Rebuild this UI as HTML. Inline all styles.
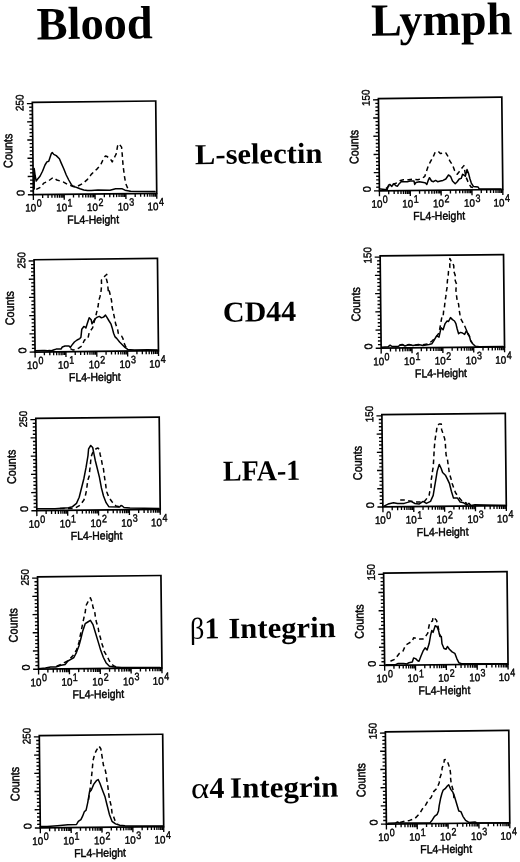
<!DOCTYPE html><html><head><meta charset="utf-8"><style>html,body{margin:0;padding:0;background:#fff;}svg{display:block;filter:grayscale(1);}</style></head><body>
<svg width="520" height="862" viewBox="0 0 520 862">
<rect width="520" height="862" fill="#fff"/>
<g transform="rotate(-0.63)">
<text x="36.4" y="39.8" font-family="Liberation Serif, serif" font-weight="bold" font-size="46.5" textLength="116" lengthAdjust="spacingAndGlyphs" fill="#000">Blood</text>
<text x="370.9" y="39.9" font-family="Liberation Serif, serif" font-weight="bold" font-size="46" textLength="141" lengthAdjust="spacingAndGlyphs" fill="#000">Lymph</text>
<text x="193.3" y="166.3" font-family="Liberation Serif, serif" font-weight="bold" font-size="29" textLength="127.3" lengthAdjust="spacingAndGlyphs" fill="#000">L-selectin</text>
<text x="219.5" y="324.1" font-family="Liberation Serif, serif" font-weight="bold" font-size="29" textLength="73.3" lengthAdjust="spacingAndGlyphs" fill="#000">CD44</text>
<text x="217.7" y="483.2" font-family="Liberation Serif, serif" font-weight="bold" font-size="29" textLength="77.4" lengthAdjust="spacingAndGlyphs" fill="#000">LFA-1</text>
<text x="183" y="640.7" font-family="Liberation Serif, serif" font-size="30" textLength="14.5" lengthAdjust="spacingAndGlyphs">β</text>
<text x="197.5" y="640.7" font-family="Liberation Serif, serif" font-weight="bold" font-size="30">1</text>
<text x="221.4" y="640.7" font-family="Liberation Serif, serif" font-weight="bold" font-size="29.5" textLength="107.4" lengthAdjust="spacingAndGlyphs">Integrin</text>
<text x="182.2" y="800.2" font-family="Liberation Serif, serif" font-size="30" textLength="18.4" lengthAdjust="spacingAndGlyphs">α</text>
<text x="200.6" y="800.2" font-family="Liberation Serif, serif" font-weight="bold" font-size="30">4</text>
<text x="221.3" y="800.2" font-family="Liberation Serif, serif" font-weight="bold" font-size="29.5" textLength="108.5" lengthAdjust="spacingAndGlyphs">Integrin</text>
<g font-family="Liberation Sans, sans-serif" fill="#000" stroke="#000" stroke-width="0.4">
<rect x="31.2" y="102.7" width="123.4" height="92.3" fill="none" stroke="#000" stroke-width="1.7"/>
<path d="M25.75 195H31.2M28.05 191.36H31.2M28.05 187.71H31.2M28.05 184.07H31.2M28.05 180.42H31.2M25.75 176.78H31.2M28.05 173.14H31.2M28.05 169.49H31.2M28.05 165.85H31.2M28.05 162.2H31.2M25.75 158.56H31.2M28.05 154.92H31.2M28.05 151.27H31.2M28.05 147.63H31.2M28.05 143.98H31.2M25.75 140.34H31.2M28.05 136.7H31.2M28.05 133.05H31.2M28.05 129.41H31.2M28.05 125.76H31.2M25.75 122.12H31.2M28.05 118.48H31.2M28.05 114.83H31.2M28.05 111.19H31.2M28.05 107.54H31.2M25.75 103.9H31.2M31.2 195V200.4M40.49 195V198.4M45.92 195V198.4M49.77 195V198.4M52.76 195V198.4M55.21 195V198.4M57.27 195V198.4M59.06 195V198.4M60.64 195V198.4M62.05 195V200.4M71.34 195V198.4M76.77 195V198.4M80.62 195V198.4M83.61 195V198.4M86.06 195V198.4M88.12 195V198.4M89.91 195V198.4M91.49 195V198.4M92.9 195V200.4M102.19 195V198.4M107.62 195V198.4M111.47 195V198.4M114.46 195V198.4M116.91 195V198.4M118.97 195V198.4M120.76 195V198.4M122.34 195V198.4M123.75 195V200.4M133.04 195V198.4M138.47 195V198.4M142.32 195V198.4M145.31 195V198.4M147.76 195V198.4M149.82 195V198.4M151.61 195V198.4M153.19 195V198.4M154.6 195V200.4" stroke="#000" stroke-width="1.35" fill="none"/>
<text transform="translate(22.4 103.1) rotate(-90)" text-anchor="middle" font-size="11" textLength="16.5" lengthAdjust="spacingAndGlyphs">250</text>
<text transform="translate(22.4 193.2) rotate(-90)" text-anchor="middle" font-size="11">0</text>
<text transform="translate(10.6 150.9) rotate(-90)" text-anchor="middle" font-size="12.6" stroke-width="0.45" textLength="34.3" lengthAdjust="spacingAndGlyphs">Counts</text>
<text x="23" y="211.9" font-size="10.8" textLength="11" lengthAdjust="spacingAndGlyphs">10</text>
<text x="34.5" y="207.2" font-size="10.8" textLength="5" lengthAdjust="spacingAndGlyphs">0</text>
<text x="53.85" y="211.9" font-size="10.8" textLength="11" lengthAdjust="spacingAndGlyphs">10</text>
<text x="65.35" y="207.2" font-size="10.8" textLength="5" lengthAdjust="spacingAndGlyphs">1</text>
<text x="84.7" y="211.9" font-size="10.8" textLength="11" lengthAdjust="spacingAndGlyphs">10</text>
<text x="96.2" y="207.2" font-size="10.8" textLength="5" lengthAdjust="spacingAndGlyphs">2</text>
<text x="115.55" y="211.9" font-size="10.8" textLength="11" lengthAdjust="spacingAndGlyphs">10</text>
<text x="127.05" y="207.2" font-size="10.8" textLength="5" lengthAdjust="spacingAndGlyphs">3</text>
<text x="145.2" y="211.9" font-size="10.8" textLength="11" lengthAdjust="spacingAndGlyphs">10</text>
<text x="156.7" y="207.2" font-size="10.8" textLength="5" lengthAdjust="spacingAndGlyphs">4</text>
<text x="90.7" y="224.6" text-anchor="middle" font-size="11.6" stroke-width="0.45" textLength="51.8" lengthAdjust="spacingAndGlyphs">FL4-Height</text>
<rect x="31.2" y="260.1" width="123.4" height="92.3" fill="none" stroke="#000" stroke-width="1.7"/>
<path d="M25.75 352.4H31.2M28.05 348.76H31.2M28.05 345.11H31.2M28.05 341.47H31.2M28.05 337.82H31.2M25.75 334.18H31.2M28.05 330.54H31.2M28.05 326.89H31.2M28.05 323.25H31.2M28.05 319.6H31.2M25.75 315.96H31.2M28.05 312.32H31.2M28.05 308.67H31.2M28.05 305.03H31.2M28.05 301.38H31.2M25.75 297.74H31.2M28.05 294.1H31.2M28.05 290.45H31.2M28.05 286.81H31.2M28.05 283.16H31.2M25.75 279.52H31.2M28.05 275.88H31.2M28.05 272.23H31.2M28.05 268.59H31.2M28.05 264.94H31.2M25.75 261.3H31.2M31.2 352.4V357.8M40.49 352.4V355.8M45.92 352.4V355.8M49.77 352.4V355.8M52.76 352.4V355.8M55.21 352.4V355.8M57.27 352.4V355.8M59.06 352.4V355.8M60.64 352.4V355.8M62.05 352.4V357.8M71.34 352.4V355.8M76.77 352.4V355.8M80.62 352.4V355.8M83.61 352.4V355.8M86.06 352.4V355.8M88.12 352.4V355.8M89.91 352.4V355.8M91.49 352.4V355.8M92.9 352.4V357.8M102.19 352.4V355.8M107.62 352.4V355.8M111.47 352.4V355.8M114.46 352.4V355.8M116.91 352.4V355.8M118.97 352.4V355.8M120.76 352.4V355.8M122.34 352.4V355.8M123.75 352.4V357.8M133.04 352.4V355.8M138.47 352.4V355.8M142.32 352.4V355.8M145.31 352.4V355.8M147.76 352.4V355.8M149.82 352.4V355.8M151.61 352.4V355.8M153.19 352.4V355.8M154.6 352.4V357.8" stroke="#000" stroke-width="1.35" fill="none"/>
<text transform="translate(22.4 260.5) rotate(-90)" text-anchor="middle" font-size="11" textLength="16.5" lengthAdjust="spacingAndGlyphs">250</text>
<text transform="translate(22.4 350.6) rotate(-90)" text-anchor="middle" font-size="11">0</text>
<text transform="translate(10.6 308.3) rotate(-90)" text-anchor="middle" font-size="12.6" stroke-width="0.45" textLength="34.3" lengthAdjust="spacingAndGlyphs">Counts</text>
<text x="23" y="369.3" font-size="10.8" textLength="11" lengthAdjust="spacingAndGlyphs">10</text>
<text x="34.5" y="364.6" font-size="10.8" textLength="5" lengthAdjust="spacingAndGlyphs">0</text>
<text x="53.85" y="369.3" font-size="10.8" textLength="11" lengthAdjust="spacingAndGlyphs">10</text>
<text x="65.35" y="364.6" font-size="10.8" textLength="5" lengthAdjust="spacingAndGlyphs">1</text>
<text x="84.7" y="369.3" font-size="10.8" textLength="11" lengthAdjust="spacingAndGlyphs">10</text>
<text x="96.2" y="364.6" font-size="10.8" textLength="5" lengthAdjust="spacingAndGlyphs">2</text>
<text x="115.55" y="369.3" font-size="10.8" textLength="11" lengthAdjust="spacingAndGlyphs">10</text>
<text x="127.05" y="364.6" font-size="10.8" textLength="5" lengthAdjust="spacingAndGlyphs">3</text>
<text x="145.2" y="369.3" font-size="10.8" textLength="11" lengthAdjust="spacingAndGlyphs">10</text>
<text x="156.7" y="364.6" font-size="10.8" textLength="5" lengthAdjust="spacingAndGlyphs">4</text>
<text x="90.7" y="382" text-anchor="middle" font-size="11.6" stroke-width="0.45" textLength="51.8" lengthAdjust="spacingAndGlyphs">FL4-Height</text>
<rect x="31.2" y="418.8" width="123.4" height="92.3" fill="none" stroke="#000" stroke-width="1.7"/>
<path d="M25.75 511.1H31.2M28.05 507.46H31.2M28.05 503.81H31.2M28.05 500.17H31.2M28.05 496.52H31.2M25.75 492.88H31.2M28.05 489.24H31.2M28.05 485.59H31.2M28.05 481.95H31.2M28.05 478.3H31.2M25.75 474.66H31.2M28.05 471.02H31.2M28.05 467.37H31.2M28.05 463.73H31.2M28.05 460.08H31.2M25.75 456.44H31.2M28.05 452.8H31.2M28.05 449.15H31.2M28.05 445.51H31.2M28.05 441.86H31.2M25.75 438.22H31.2M28.05 434.58H31.2M28.05 430.93H31.2M28.05 427.29H31.2M28.05 423.64H31.2M25.75 420H31.2M31.2 511.1V516.5M40.49 511.1V514.5M45.92 511.1V514.5M49.77 511.1V514.5M52.76 511.1V514.5M55.21 511.1V514.5M57.27 511.1V514.5M59.06 511.1V514.5M60.64 511.1V514.5M62.05 511.1V516.5M71.34 511.1V514.5M76.77 511.1V514.5M80.62 511.1V514.5M83.61 511.1V514.5M86.06 511.1V514.5M88.12 511.1V514.5M89.91 511.1V514.5M91.49 511.1V514.5M92.9 511.1V516.5M102.19 511.1V514.5M107.62 511.1V514.5M111.47 511.1V514.5M114.46 511.1V514.5M116.91 511.1V514.5M118.97 511.1V514.5M120.76 511.1V514.5M122.34 511.1V514.5M123.75 511.1V516.5M133.04 511.1V514.5M138.47 511.1V514.5M142.32 511.1V514.5M145.31 511.1V514.5M147.76 511.1V514.5M149.82 511.1V514.5M151.61 511.1V514.5M153.19 511.1V514.5M154.6 511.1V516.5" stroke="#000" stroke-width="1.35" fill="none"/>
<text transform="translate(22.4 419.2) rotate(-90)" text-anchor="middle" font-size="11" textLength="16.5" lengthAdjust="spacingAndGlyphs">250</text>
<text transform="translate(22.4 509.3) rotate(-90)" text-anchor="middle" font-size="11">0</text>
<text transform="translate(10.6 467) rotate(-90)" text-anchor="middle" font-size="12.6" stroke-width="0.45" textLength="34.3" lengthAdjust="spacingAndGlyphs">Counts</text>
<text x="23" y="528" font-size="10.8" textLength="11" lengthAdjust="spacingAndGlyphs">10</text>
<text x="34.5" y="523.3" font-size="10.8" textLength="5" lengthAdjust="spacingAndGlyphs">0</text>
<text x="53.85" y="528" font-size="10.8" textLength="11" lengthAdjust="spacingAndGlyphs">10</text>
<text x="65.35" y="523.3" font-size="10.8" textLength="5" lengthAdjust="spacingAndGlyphs">1</text>
<text x="84.7" y="528" font-size="10.8" textLength="11" lengthAdjust="spacingAndGlyphs">10</text>
<text x="96.2" y="523.3" font-size="10.8" textLength="5" lengthAdjust="spacingAndGlyphs">2</text>
<text x="115.55" y="528" font-size="10.8" textLength="11" lengthAdjust="spacingAndGlyphs">10</text>
<text x="127.05" y="523.3" font-size="10.8" textLength="5" lengthAdjust="spacingAndGlyphs">3</text>
<text x="145.2" y="528" font-size="10.8" textLength="11" lengthAdjust="spacingAndGlyphs">10</text>
<text x="156.7" y="523.3" font-size="10.8" textLength="5" lengthAdjust="spacingAndGlyphs">4</text>
<text x="90.7" y="540.7" text-anchor="middle" font-size="11.6" stroke-width="0.45" textLength="51.8" lengthAdjust="spacingAndGlyphs">FL4-Height</text>
<rect x="31.2" y="577.25" width="123.4" height="92.3" fill="none" stroke="#000" stroke-width="1.7"/>
<path d="M25.75 669.55H31.2M28.05 665.91H31.2M28.05 662.26H31.2M28.05 658.62H31.2M28.05 654.97H31.2M25.75 651.33H31.2M28.05 647.69H31.2M28.05 644.04H31.2M28.05 640.4H31.2M28.05 636.75H31.2M25.75 633.11H31.2M28.05 629.47H31.2M28.05 625.82H31.2M28.05 622.18H31.2M28.05 618.53H31.2M25.75 614.89H31.2M28.05 611.25H31.2M28.05 607.6H31.2M28.05 603.96H31.2M28.05 600.31H31.2M25.75 596.67H31.2M28.05 593.03H31.2M28.05 589.38H31.2M28.05 585.74H31.2M28.05 582.09H31.2M25.75 578.45H31.2M31.2 669.55V674.95M40.49 669.55V672.95M45.92 669.55V672.95M49.77 669.55V672.95M52.76 669.55V672.95M55.21 669.55V672.95M57.27 669.55V672.95M59.06 669.55V672.95M60.64 669.55V672.95M62.05 669.55V674.95M71.34 669.55V672.95M76.77 669.55V672.95M80.62 669.55V672.95M83.61 669.55V672.95M86.06 669.55V672.95M88.12 669.55V672.95M89.91 669.55V672.95M91.49 669.55V672.95M92.9 669.55V674.95M102.19 669.55V672.95M107.62 669.55V672.95M111.47 669.55V672.95M114.46 669.55V672.95M116.91 669.55V672.95M118.97 669.55V672.95M120.76 669.55V672.95M122.34 669.55V672.95M123.75 669.55V674.95M133.04 669.55V672.95M138.47 669.55V672.95M142.32 669.55V672.95M145.31 669.55V672.95M147.76 669.55V672.95M149.82 669.55V672.95M151.61 669.55V672.95M153.19 669.55V672.95M154.6 669.55V674.95" stroke="#000" stroke-width="1.35" fill="none"/>
<text transform="translate(22.4 577.65) rotate(-90)" text-anchor="middle" font-size="11" textLength="16.5" lengthAdjust="spacingAndGlyphs">250</text>
<text transform="translate(22.4 667.75) rotate(-90)" text-anchor="middle" font-size="11">0</text>
<text transform="translate(10.6 625.45) rotate(-90)" text-anchor="middle" font-size="12.6" stroke-width="0.45" textLength="34.3" lengthAdjust="spacingAndGlyphs">Counts</text>
<text x="23" y="686.45" font-size="10.8" textLength="11" lengthAdjust="spacingAndGlyphs">10</text>
<text x="34.5" y="681.75" font-size="10.8" textLength="5" lengthAdjust="spacingAndGlyphs">0</text>
<text x="53.85" y="686.45" font-size="10.8" textLength="11" lengthAdjust="spacingAndGlyphs">10</text>
<text x="65.35" y="681.75" font-size="10.8" textLength="5" lengthAdjust="spacingAndGlyphs">1</text>
<text x="84.7" y="686.45" font-size="10.8" textLength="11" lengthAdjust="spacingAndGlyphs">10</text>
<text x="96.2" y="681.75" font-size="10.8" textLength="5" lengthAdjust="spacingAndGlyphs">2</text>
<text x="115.55" y="686.45" font-size="10.8" textLength="11" lengthAdjust="spacingAndGlyphs">10</text>
<text x="127.05" y="681.75" font-size="10.8" textLength="5" lengthAdjust="spacingAndGlyphs">3</text>
<text x="145.2" y="686.45" font-size="10.8" textLength="11" lengthAdjust="spacingAndGlyphs">10</text>
<text x="156.7" y="681.75" font-size="10.8" textLength="5" lengthAdjust="spacingAndGlyphs">4</text>
<text x="90.7" y="699.15" text-anchor="middle" font-size="11.6" stroke-width="0.45" textLength="51.8" lengthAdjust="spacingAndGlyphs">FL4-Height</text>
<rect x="31.2" y="736" width="123.4" height="92.3" fill="none" stroke="#000" stroke-width="1.7"/>
<path d="M25.75 828.3H31.2M28.05 824.66H31.2M28.05 821.01H31.2M28.05 817.37H31.2M28.05 813.72H31.2M25.75 810.08H31.2M28.05 806.44H31.2M28.05 802.79H31.2M28.05 799.15H31.2M28.05 795.5H31.2M25.75 791.86H31.2M28.05 788.22H31.2M28.05 784.57H31.2M28.05 780.93H31.2M28.05 777.28H31.2M25.75 773.64H31.2M28.05 770H31.2M28.05 766.35H31.2M28.05 762.71H31.2M28.05 759.06H31.2M25.75 755.42H31.2M28.05 751.78H31.2M28.05 748.13H31.2M28.05 744.49H31.2M28.05 740.84H31.2M25.75 737.2H31.2M31.2 828.3V833.7M40.49 828.3V831.7M45.92 828.3V831.7M49.77 828.3V831.7M52.76 828.3V831.7M55.21 828.3V831.7M57.27 828.3V831.7M59.06 828.3V831.7M60.64 828.3V831.7M62.05 828.3V833.7M71.34 828.3V831.7M76.77 828.3V831.7M80.62 828.3V831.7M83.61 828.3V831.7M86.06 828.3V831.7M88.12 828.3V831.7M89.91 828.3V831.7M91.49 828.3V831.7M92.9 828.3V833.7M102.19 828.3V831.7M107.62 828.3V831.7M111.47 828.3V831.7M114.46 828.3V831.7M116.91 828.3V831.7M118.97 828.3V831.7M120.76 828.3V831.7M122.34 828.3V831.7M123.75 828.3V833.7M133.04 828.3V831.7M138.47 828.3V831.7M142.32 828.3V831.7M145.31 828.3V831.7M147.76 828.3V831.7M149.82 828.3V831.7M151.61 828.3V831.7M153.19 828.3V831.7M154.6 828.3V833.7" stroke="#000" stroke-width="1.35" fill="none"/>
<text transform="translate(22.4 736.4) rotate(-90)" text-anchor="middle" font-size="11" textLength="16.5" lengthAdjust="spacingAndGlyphs">250</text>
<text transform="translate(22.4 826.5) rotate(-90)" text-anchor="middle" font-size="11">0</text>
<text transform="translate(10.6 784.2) rotate(-90)" text-anchor="middle" font-size="12.6" stroke-width="0.45" textLength="34.3" lengthAdjust="spacingAndGlyphs">Counts</text>
<text x="23" y="845.2" font-size="10.8" textLength="11" lengthAdjust="spacingAndGlyphs">10</text>
<text x="34.5" y="840.5" font-size="10.8" textLength="5" lengthAdjust="spacingAndGlyphs">0</text>
<text x="53.85" y="845.2" font-size="10.8" textLength="11" lengthAdjust="spacingAndGlyphs">10</text>
<text x="65.35" y="840.5" font-size="10.8" textLength="5" lengthAdjust="spacingAndGlyphs">1</text>
<text x="84.7" y="845.2" font-size="10.8" textLength="11" lengthAdjust="spacingAndGlyphs">10</text>
<text x="96.2" y="840.5" font-size="10.8" textLength="5" lengthAdjust="spacingAndGlyphs">2</text>
<text x="115.55" y="845.2" font-size="10.8" textLength="11" lengthAdjust="spacingAndGlyphs">10</text>
<text x="127.05" y="840.5" font-size="10.8" textLength="5" lengthAdjust="spacingAndGlyphs">3</text>
<text x="145.2" y="845.2" font-size="10.8" textLength="11" lengthAdjust="spacingAndGlyphs">10</text>
<text x="156.7" y="840.5" font-size="10.8" textLength="5" lengthAdjust="spacingAndGlyphs">4</text>
<text x="90.7" y="857.9" text-anchor="middle" font-size="11.6" stroke-width="0.45" textLength="51.8" lengthAdjust="spacingAndGlyphs">FL4-Height</text>
<rect x="377.3" y="102.7" width="123.4" height="92.3" fill="none" stroke="#000" stroke-width="1.7"/>
<path d="M371.85 195H377.3M374.15 191.36H377.3M374.15 187.71H377.3M374.15 184.07H377.3M374.15 180.42H377.3M371.85 176.78H377.3M374.15 173.14H377.3M374.15 169.49H377.3M374.15 165.85H377.3M374.15 162.2H377.3M371.85 158.56H377.3M374.15 154.92H377.3M374.15 151.27H377.3M374.15 147.63H377.3M374.15 143.98H377.3M371.85 140.34H377.3M374.15 136.7H377.3M374.15 133.05H377.3M374.15 129.41H377.3M374.15 125.76H377.3M371.85 122.12H377.3M374.15 118.48H377.3M374.15 114.83H377.3M374.15 111.19H377.3M374.15 107.54H377.3M371.85 103.9H377.3M377.3 195V200.4M386.59 195V198.4M392.02 195V198.4M395.87 195V198.4M398.86 195V198.4M401.31 195V198.4M403.37 195V198.4M405.16 195V198.4M406.74 195V198.4M408.15 195V200.4M417.44 195V198.4M422.87 195V198.4M426.72 195V198.4M429.71 195V198.4M432.16 195V198.4M434.22 195V198.4M436.01 195V198.4M437.59 195V198.4M439 195V200.4M448.29 195V198.4M453.72 195V198.4M457.57 195V198.4M460.56 195V198.4M463.01 195V198.4M465.07 195V198.4M466.86 195V198.4M468.44 195V198.4M469.85 195V200.4M479.14 195V198.4M484.57 195V198.4M488.42 195V198.4M491.41 195V198.4M493.86 195V198.4M495.92 195V198.4M497.71 195V198.4M499.29 195V198.4M500.7 195V200.4" stroke="#000" stroke-width="1.35" fill="none"/>
<text transform="translate(368.5 101.9) rotate(-90)" text-anchor="middle" font-size="11" textLength="16.5" lengthAdjust="spacingAndGlyphs">150</text>
<text transform="translate(368.5 193.2) rotate(-90)" text-anchor="middle" font-size="11">0</text>
<text transform="translate(356.7 150.9) rotate(-90)" text-anchor="middle" font-size="12.6" stroke-width="0.45" textLength="34.3" lengthAdjust="spacingAndGlyphs">Counts</text>
<text x="369.1" y="211.9" font-size="10.8" textLength="11" lengthAdjust="spacingAndGlyphs">10</text>
<text x="380.6" y="207.2" font-size="10.8" textLength="5" lengthAdjust="spacingAndGlyphs">0</text>
<text x="399.95" y="211.9" font-size="10.8" textLength="11" lengthAdjust="spacingAndGlyphs">10</text>
<text x="411.45" y="207.2" font-size="10.8" textLength="5" lengthAdjust="spacingAndGlyphs">1</text>
<text x="430.8" y="211.9" font-size="10.8" textLength="11" lengthAdjust="spacingAndGlyphs">10</text>
<text x="442.3" y="207.2" font-size="10.8" textLength="5" lengthAdjust="spacingAndGlyphs">2</text>
<text x="461.65" y="211.9" font-size="10.8" textLength="11" lengthAdjust="spacingAndGlyphs">10</text>
<text x="473.15" y="207.2" font-size="10.8" textLength="5" lengthAdjust="spacingAndGlyphs">3</text>
<text x="491.3" y="211.9" font-size="10.8" textLength="11" lengthAdjust="spacingAndGlyphs">10</text>
<text x="502.8" y="207.2" font-size="10.8" textLength="5" lengthAdjust="spacingAndGlyphs">4</text>
<text x="436.8" y="224.6" text-anchor="middle" font-size="11.6" stroke-width="0.45" textLength="51.8" lengthAdjust="spacingAndGlyphs">FL4-Height</text>
<rect x="377.3" y="260.1" width="123.4" height="92.3" fill="none" stroke="#000" stroke-width="1.7"/>
<path d="M371.85 352.4H377.3M374.15 348.76H377.3M374.15 345.11H377.3M374.15 341.47H377.3M374.15 337.82H377.3M371.85 334.18H377.3M374.15 330.54H377.3M374.15 326.89H377.3M374.15 323.25H377.3M374.15 319.6H377.3M371.85 315.96H377.3M374.15 312.32H377.3M374.15 308.67H377.3M374.15 305.03H377.3M374.15 301.38H377.3M371.85 297.74H377.3M374.15 294.1H377.3M374.15 290.45H377.3M374.15 286.81H377.3M374.15 283.16H377.3M371.85 279.52H377.3M374.15 275.88H377.3M374.15 272.23H377.3M374.15 268.59H377.3M374.15 264.94H377.3M371.85 261.3H377.3M377.3 352.4V357.8M386.59 352.4V355.8M392.02 352.4V355.8M395.87 352.4V355.8M398.86 352.4V355.8M401.31 352.4V355.8M403.37 352.4V355.8M405.16 352.4V355.8M406.74 352.4V355.8M408.15 352.4V357.8M417.44 352.4V355.8M422.87 352.4V355.8M426.72 352.4V355.8M429.71 352.4V355.8M432.16 352.4V355.8M434.22 352.4V355.8M436.01 352.4V355.8M437.59 352.4V355.8M439 352.4V357.8M448.29 352.4V355.8M453.72 352.4V355.8M457.57 352.4V355.8M460.56 352.4V355.8M463.01 352.4V355.8M465.07 352.4V355.8M466.86 352.4V355.8M468.44 352.4V355.8M469.85 352.4V357.8M479.14 352.4V355.8M484.57 352.4V355.8M488.42 352.4V355.8M491.41 352.4V355.8M493.86 352.4V355.8M495.92 352.4V355.8M497.71 352.4V355.8M499.29 352.4V355.8M500.7 352.4V357.8" stroke="#000" stroke-width="1.35" fill="none"/>
<text transform="translate(368.5 259.3) rotate(-90)" text-anchor="middle" font-size="11" textLength="16.5" lengthAdjust="spacingAndGlyphs">150</text>
<text transform="translate(368.5 350.6) rotate(-90)" text-anchor="middle" font-size="11">0</text>
<text transform="translate(356.7 308.3) rotate(-90)" text-anchor="middle" font-size="12.6" stroke-width="0.45" textLength="34.3" lengthAdjust="spacingAndGlyphs">Counts</text>
<text x="369.1" y="369.3" font-size="10.8" textLength="11" lengthAdjust="spacingAndGlyphs">10</text>
<text x="380.6" y="364.6" font-size="10.8" textLength="5" lengthAdjust="spacingAndGlyphs">0</text>
<text x="399.95" y="369.3" font-size="10.8" textLength="11" lengthAdjust="spacingAndGlyphs">10</text>
<text x="411.45" y="364.6" font-size="10.8" textLength="5" lengthAdjust="spacingAndGlyphs">1</text>
<text x="430.8" y="369.3" font-size="10.8" textLength="11" lengthAdjust="spacingAndGlyphs">10</text>
<text x="442.3" y="364.6" font-size="10.8" textLength="5" lengthAdjust="spacingAndGlyphs">2</text>
<text x="461.65" y="369.3" font-size="10.8" textLength="11" lengthAdjust="spacingAndGlyphs">10</text>
<text x="473.15" y="364.6" font-size="10.8" textLength="5" lengthAdjust="spacingAndGlyphs">3</text>
<text x="491.3" y="369.3" font-size="10.8" textLength="11" lengthAdjust="spacingAndGlyphs">10</text>
<text x="502.8" y="364.6" font-size="10.8" textLength="5" lengthAdjust="spacingAndGlyphs">4</text>
<text x="436.8" y="382" text-anchor="middle" font-size="11.6" stroke-width="0.45" textLength="51.8" lengthAdjust="spacingAndGlyphs">FL4-Height</text>
<rect x="377.3" y="418.8" width="123.4" height="92.3" fill="none" stroke="#000" stroke-width="1.7"/>
<path d="M371.85 511.1H377.3M374.15 507.46H377.3M374.15 503.81H377.3M374.15 500.17H377.3M374.15 496.52H377.3M371.85 492.88H377.3M374.15 489.24H377.3M374.15 485.59H377.3M374.15 481.95H377.3M374.15 478.3H377.3M371.85 474.66H377.3M374.15 471.02H377.3M374.15 467.37H377.3M374.15 463.73H377.3M374.15 460.08H377.3M371.85 456.44H377.3M374.15 452.8H377.3M374.15 449.15H377.3M374.15 445.51H377.3M374.15 441.86H377.3M371.85 438.22H377.3M374.15 434.58H377.3M374.15 430.93H377.3M374.15 427.29H377.3M374.15 423.64H377.3M371.85 420H377.3M377.3 511.1V516.5M386.59 511.1V514.5M392.02 511.1V514.5M395.87 511.1V514.5M398.86 511.1V514.5M401.31 511.1V514.5M403.37 511.1V514.5M405.16 511.1V514.5M406.74 511.1V514.5M408.15 511.1V516.5M417.44 511.1V514.5M422.87 511.1V514.5M426.72 511.1V514.5M429.71 511.1V514.5M432.16 511.1V514.5M434.22 511.1V514.5M436.01 511.1V514.5M437.59 511.1V514.5M439 511.1V516.5M448.29 511.1V514.5M453.72 511.1V514.5M457.57 511.1V514.5M460.56 511.1V514.5M463.01 511.1V514.5M465.07 511.1V514.5M466.86 511.1V514.5M468.44 511.1V514.5M469.85 511.1V516.5M479.14 511.1V514.5M484.57 511.1V514.5M488.42 511.1V514.5M491.41 511.1V514.5M493.86 511.1V514.5M495.92 511.1V514.5M497.71 511.1V514.5M499.29 511.1V514.5M500.7 511.1V516.5" stroke="#000" stroke-width="1.35" fill="none"/>
<text transform="translate(368.5 418) rotate(-90)" text-anchor="middle" font-size="11" textLength="16.5" lengthAdjust="spacingAndGlyphs">150</text>
<text transform="translate(368.5 509.3) rotate(-90)" text-anchor="middle" font-size="11">0</text>
<text transform="translate(356.7 467) rotate(-90)" text-anchor="middle" font-size="12.6" stroke-width="0.45" textLength="34.3" lengthAdjust="spacingAndGlyphs">Counts</text>
<text x="369.1" y="528" font-size="10.8" textLength="11" lengthAdjust="spacingAndGlyphs">10</text>
<text x="380.6" y="523.3" font-size="10.8" textLength="5" lengthAdjust="spacingAndGlyphs">0</text>
<text x="399.95" y="528" font-size="10.8" textLength="11" lengthAdjust="spacingAndGlyphs">10</text>
<text x="411.45" y="523.3" font-size="10.8" textLength="5" lengthAdjust="spacingAndGlyphs">1</text>
<text x="430.8" y="528" font-size="10.8" textLength="11" lengthAdjust="spacingAndGlyphs">10</text>
<text x="442.3" y="523.3" font-size="10.8" textLength="5" lengthAdjust="spacingAndGlyphs">2</text>
<text x="461.65" y="528" font-size="10.8" textLength="11" lengthAdjust="spacingAndGlyphs">10</text>
<text x="473.15" y="523.3" font-size="10.8" textLength="5" lengthAdjust="spacingAndGlyphs">3</text>
<text x="491.3" y="528" font-size="10.8" textLength="11" lengthAdjust="spacingAndGlyphs">10</text>
<text x="502.8" y="523.3" font-size="10.8" textLength="5" lengthAdjust="spacingAndGlyphs">4</text>
<text x="436.8" y="540.7" text-anchor="middle" font-size="11.6" stroke-width="0.45" textLength="51.8" lengthAdjust="spacingAndGlyphs">FL4-Height</text>
<rect x="377.3" y="577.25" width="123.4" height="92.3" fill="none" stroke="#000" stroke-width="1.7"/>
<path d="M371.85 669.55H377.3M374.15 665.91H377.3M374.15 662.26H377.3M374.15 658.62H377.3M374.15 654.97H377.3M371.85 651.33H377.3M374.15 647.69H377.3M374.15 644.04H377.3M374.15 640.4H377.3M374.15 636.75H377.3M371.85 633.11H377.3M374.15 629.47H377.3M374.15 625.82H377.3M374.15 622.18H377.3M374.15 618.53H377.3M371.85 614.89H377.3M374.15 611.25H377.3M374.15 607.6H377.3M374.15 603.96H377.3M374.15 600.31H377.3M371.85 596.67H377.3M374.15 593.03H377.3M374.15 589.38H377.3M374.15 585.74H377.3M374.15 582.09H377.3M371.85 578.45H377.3M377.3 669.55V674.95M386.59 669.55V672.95M392.02 669.55V672.95M395.87 669.55V672.95M398.86 669.55V672.95M401.31 669.55V672.95M403.37 669.55V672.95M405.16 669.55V672.95M406.74 669.55V672.95M408.15 669.55V674.95M417.44 669.55V672.95M422.87 669.55V672.95M426.72 669.55V672.95M429.71 669.55V672.95M432.16 669.55V672.95M434.22 669.55V672.95M436.01 669.55V672.95M437.59 669.55V672.95M439 669.55V674.95M448.29 669.55V672.95M453.72 669.55V672.95M457.57 669.55V672.95M460.56 669.55V672.95M463.01 669.55V672.95M465.07 669.55V672.95M466.86 669.55V672.95M468.44 669.55V672.95M469.85 669.55V674.95M479.14 669.55V672.95M484.57 669.55V672.95M488.42 669.55V672.95M491.41 669.55V672.95M493.86 669.55V672.95M495.92 669.55V672.95M497.71 669.55V672.95M499.29 669.55V672.95M500.7 669.55V674.95" stroke="#000" stroke-width="1.35" fill="none"/>
<text transform="translate(368.5 576.45) rotate(-90)" text-anchor="middle" font-size="11" textLength="16.5" lengthAdjust="spacingAndGlyphs">150</text>
<text transform="translate(368.5 667.75) rotate(-90)" text-anchor="middle" font-size="11">0</text>
<text transform="translate(356.7 625.45) rotate(-90)" text-anchor="middle" font-size="12.6" stroke-width="0.45" textLength="34.3" lengthAdjust="spacingAndGlyphs">Counts</text>
<text x="369.1" y="686.45" font-size="10.8" textLength="11" lengthAdjust="spacingAndGlyphs">10</text>
<text x="380.6" y="681.75" font-size="10.8" textLength="5" lengthAdjust="spacingAndGlyphs">0</text>
<text x="399.95" y="686.45" font-size="10.8" textLength="11" lengthAdjust="spacingAndGlyphs">10</text>
<text x="411.45" y="681.75" font-size="10.8" textLength="5" lengthAdjust="spacingAndGlyphs">1</text>
<text x="430.8" y="686.45" font-size="10.8" textLength="11" lengthAdjust="spacingAndGlyphs">10</text>
<text x="442.3" y="681.75" font-size="10.8" textLength="5" lengthAdjust="spacingAndGlyphs">2</text>
<text x="461.65" y="686.45" font-size="10.8" textLength="11" lengthAdjust="spacingAndGlyphs">10</text>
<text x="473.15" y="681.75" font-size="10.8" textLength="5" lengthAdjust="spacingAndGlyphs">3</text>
<text x="491.3" y="686.45" font-size="10.8" textLength="11" lengthAdjust="spacingAndGlyphs">10</text>
<text x="502.8" y="681.75" font-size="10.8" textLength="5" lengthAdjust="spacingAndGlyphs">4</text>
<text x="436.8" y="699.15" text-anchor="middle" font-size="11.6" stroke-width="0.45" textLength="51.8" lengthAdjust="spacingAndGlyphs">FL4-Height</text>
<rect x="377.3" y="736" width="123.4" height="92.3" fill="none" stroke="#000" stroke-width="1.7"/>
<path d="M371.85 828.3H377.3M374.15 824.66H377.3M374.15 821.01H377.3M374.15 817.37H377.3M374.15 813.72H377.3M371.85 810.08H377.3M374.15 806.44H377.3M374.15 802.79H377.3M374.15 799.15H377.3M374.15 795.5H377.3M371.85 791.86H377.3M374.15 788.22H377.3M374.15 784.57H377.3M374.15 780.93H377.3M374.15 777.28H377.3M371.85 773.64H377.3M374.15 770H377.3M374.15 766.35H377.3M374.15 762.71H377.3M374.15 759.06H377.3M371.85 755.42H377.3M374.15 751.78H377.3M374.15 748.13H377.3M374.15 744.49H377.3M374.15 740.84H377.3M371.85 737.2H377.3M377.3 828.3V833.7M386.59 828.3V831.7M392.02 828.3V831.7M395.87 828.3V831.7M398.86 828.3V831.7M401.31 828.3V831.7M403.37 828.3V831.7M405.16 828.3V831.7M406.74 828.3V831.7M408.15 828.3V833.7M417.44 828.3V831.7M422.87 828.3V831.7M426.72 828.3V831.7M429.71 828.3V831.7M432.16 828.3V831.7M434.22 828.3V831.7M436.01 828.3V831.7M437.59 828.3V831.7M439 828.3V833.7M448.29 828.3V831.7M453.72 828.3V831.7M457.57 828.3V831.7M460.56 828.3V831.7M463.01 828.3V831.7M465.07 828.3V831.7M466.86 828.3V831.7M468.44 828.3V831.7M469.85 828.3V833.7M479.14 828.3V831.7M484.57 828.3V831.7M488.42 828.3V831.7M491.41 828.3V831.7M493.86 828.3V831.7M495.92 828.3V831.7M497.71 828.3V831.7M499.29 828.3V831.7M500.7 828.3V833.7" stroke="#000" stroke-width="1.35" fill="none"/>
<text transform="translate(368.5 735.2) rotate(-90)" text-anchor="middle" font-size="11" textLength="16.5" lengthAdjust="spacingAndGlyphs">150</text>
<text transform="translate(368.5 826.5) rotate(-90)" text-anchor="middle" font-size="11">0</text>
<text transform="translate(356.7 784.2) rotate(-90)" text-anchor="middle" font-size="12.6" stroke-width="0.45" textLength="34.3" lengthAdjust="spacingAndGlyphs">Counts</text>
<text x="369.1" y="845.2" font-size="10.8" textLength="11" lengthAdjust="spacingAndGlyphs">10</text>
<text x="380.6" y="840.5" font-size="10.8" textLength="5" lengthAdjust="spacingAndGlyphs">0</text>
<text x="399.95" y="845.2" font-size="10.8" textLength="11" lengthAdjust="spacingAndGlyphs">10</text>
<text x="411.45" y="840.5" font-size="10.8" textLength="5" lengthAdjust="spacingAndGlyphs">1</text>
<text x="430.8" y="845.2" font-size="10.8" textLength="11" lengthAdjust="spacingAndGlyphs">10</text>
<text x="442.3" y="840.5" font-size="10.8" textLength="5" lengthAdjust="spacingAndGlyphs">2</text>
<text x="461.65" y="845.2" font-size="10.8" textLength="11" lengthAdjust="spacingAndGlyphs">10</text>
<text x="473.15" y="840.5" font-size="10.8" textLength="5" lengthAdjust="spacingAndGlyphs">3</text>
<text x="491.3" y="845.2" font-size="10.8" textLength="11" lengthAdjust="spacingAndGlyphs">10</text>
<text x="502.8" y="840.5" font-size="10.8" textLength="5" lengthAdjust="spacingAndGlyphs">4</text>
<text x="436.8" y="857.9" text-anchor="middle" font-size="11.6" stroke-width="0.45" textLength="51.8" lengthAdjust="spacingAndGlyphs">FL4-Height</text>
</g>
</g>
<g fill="none" stroke="#000" stroke-linejoin="round" stroke-linecap="round">
<path d="M34.2 189 L34.2 168.5 L35.2 176 L36.2 181 L36.9 180 L40 176.25 L42.5 171.25 L45 165 L46.9 161.9 L48.75 161.25 L50 157.5 L51.25 153.75 L52.25 152.5 L53.75 154.4 L56.25 155.6 L59.4 158.75 L61.25 163.1 L63.75 168.75 L66.25 175 L68.75 180 L71.25 184.4 L73.1 186.5 L75 186.9 L77.5 187.75 L80 188.75 L83.75 190 L87.5 190.6 L91.25 190.6 L98 190 L110 190.2 L115.6 188.8 L122.3 188.8 L125 190.2 L130.4 191.3 L155 191.5" stroke-width="1.5"/>
<path d="M36.25 189.4 L40.6 187.25 L43.75 183.1 L48.1 181.25 L53.1 177.5 L56.9 180 L63.1 181.9 L67.5 184.4 L72.5 186.25 L77.5 186.25 L82.5 183.75 L87.5 179.4 L91.25 174.4 L97.4 168.6 L100.8 164.6 L103.5 158.6 L105.5 155.9 L107 156.5 L110.2 158.6 L112.2 161.9 L114.9 156.5 L116.2 153.8 L117.6 145.8 L118.9 143.7 L121.6 147.1 L122.3 155.2 L123 164.6 L124.3 175.4 L125.7 183.5 L127.7 188.2 L130 191.5" stroke-width="1.5" stroke-dasharray="4.6 3.4" stroke-linecap="butt"/>
<path d="M35.4 350.8 L42.8 350.5 L44.8 350.5 L47.5 350.8 L49.5 350.5 L51.5 350.8 L54.2 349.7 L56.2 349.1 L61 349.1 L62.3 347 L65 346 L69 346 L70.4 347.4 L71.7 345.4 L74.4 342 L77.1 340 L79.8 338.6 L80.9 337.3 L81.8 329.2 L83.8 326.5 L85.2 327.2 L85.9 327.9 L87.2 323.8 L89.2 317.8 L91.2 319.8 L92 323.8 L93.5 321.5 L95.4 318.5 L97.4 317.1 L99.4 316.4 L101.4 317.8 L103.5 317.1 L105.5 315.1 L106.8 317.1 L108.8 320.5 L110.9 323.8 L112.2 327.9 L113.6 333.3 L114.9 336.6 L116.9 338.6 L119.6 342 L122.3 344.7 L125 347.4 L127.7 349.4 L130.4 349.7 L134.4 350.1 L147.9 349.7 L157.3 350.1" stroke-width="1.5"/>
<path d="M70.4 348.7 L73.1 350.1 L76 349.5 L79.1 347.8 L81.8 346 L84.5 340 L87.9 338.6 L89.2 332.6 L92.6 327.9 L96 315 L98.1 306.3 L98.7 301 L100.1 296.2 L101 291.5 L101.6 285.5 L101.4 280.1 L103.5 277.4 L105.5 275.5 L106.8 274.4 L106.4 279 L107.6 283.5 L108 288 L108.5 293 L109.3 291 L110 294 L111.5 300.3 L112.2 307.7 L112.9 310.4 L113.6 313.7 L114.9 319.8 L115.6 323.8 L117.6 329.2 L118.3 333.3 L121.6 336 L123 338.6 L123.6 342 L125.7 346.7 L128 350" stroke-width="1.5" stroke-dasharray="4.6 3.4" stroke-linecap="butt"/>
<path d="M37 508.7 L55 508.7 L68.5 507.8 L72.5 506.7 L76.5 503.4 L79.2 497.3 L81.9 486.5 L83.9 478.5 L86 467.7 L88 455.6 L88.6 448.8 L90.7 445.5 L92.7 447.5 L94 454.2 L95.4 461 L97.4 469 L99.4 477.1 L101.4 487.9 L103.5 496 L106.1 502.7 L108.8 506.7 L119.6 507 L121 505.5 L122.3 506 L124 507.5 L130 508 L159 508.5" stroke-width="1.5"/>
<path d="M60 508.5 L72 508.6 L75.2 508.1 L79.9 505.4 L83.9 500 L85.3 496 L86.6 489.9 L87.3 483.8 L88 479.8 L89.3 475.8 L89.7 470.4 L90.3 465.7 L90.7 461 L91.1 456.9 L92.5 453 L94 451.5 L96 448.8 L98 448 L99.4 449.5 L100.1 454.2 L101.4 459.6 L102.1 463.6 L103.5 469 L104.1 474.4 L104.8 479.1 L105.5 483.2 L106.1 487.9 L106.8 491.9 L108.8 497.3 L112.2 502 L116 506 L122 507.5" stroke-width="1.5" stroke-dasharray="4.6 3.4" stroke-linecap="butt"/>
<path d="M38.5 668.7 L45.4 667.9 L50.6 667 L55.8 667 L61 665.3 L65.3 664.4 L67.9 661 L71.3 659.2 L73.9 657.5 L76.5 652.3 L79.1 645.4 L80.9 638.5 L82.6 631.5 L85.2 623.7 L87.8 622 L90.4 620.3 L93 624.6 L95.6 633.3 L98.2 641.9 L100.8 650.6 L103.4 657.5 L106 662.7 L109.4 666.2 L114.6 667 L121.5 667.5 L160 667.6" stroke-width="1.5"/>
<path d="M56.6 666.2 L61 664.4 L63.5 663 L66.2 661.8 L69.6 659.2 L73 655.5 L76.5 650 L79.1 642 L80 636.7 L82 627 L84.3 616 L85.2 612.5 L86 605.6 L87.8 602.1 L89 599 L90.4 597.8 L92.1 602.1 L93 607.3 L94.7 611.6 L95.6 618.6 L96.4 622 L98.2 628 L99 633.3 L100.5 638 L101.3 642 L103.4 648 L104.2 651.4 L107.7 657.5 L109.4 661 L112 664.5 L115 666.5 L118 667" stroke-width="1.5" stroke-dasharray="4.6 3.4" stroke-linecap="butt"/>
<path d="M40.2 826.5 L47.1 826.5 L57.5 825.7 L67.9 824.8 L76.5 824.5 L78.3 821.3 L80.9 819.6 L82.6 816.2 L84.3 811.8 L86.1 810.1 L87.8 802.3 L89.5 791.9 L91.2 790.2 L93.8 784.1 L96.4 780.7 L98.2 779.5 L99.9 783.3 L102.5 790.2 L105.1 797.1 L106.8 804 L109.4 814.4 L112 821.3 L115.5 823.9 L119.8 825.2 L125 825.7 L163 826" stroke-width="1.5"/>
<path d="M88.5 800 L90.4 786.7 L91.2 779.8 L92.1 771.2 L93 760.8 L94.7 753.8 L96.4 750.4 L99 746.1 L100.8 748.7 L101.6 753.8 L102.5 759 L103.4 765.1 L105.1 769.4 L106 773.7 L106.8 779.8 L107.7 785 L108.5 792 L109.4 798.8 L111.2 805.8 L112 812.7 L113.7 817 L115 820.5 L118 823.5" stroke-width="1.5" stroke-dasharray="4.6 3.4" stroke-linecap="butt"/>
<path d="M380.4 189.1 L387.1 189.8 L388.5 185.1 L389.8 184.4 L391.8 186.4 L393.8 183.7 L395.9 185.8 L397.5 186.2 L399.2 183.7 L401.2 181.7 L403.3 181.7 L407.3 181.7 L410 181 L414 181 L414.7 184.4 L416 182.4 L419.4 181.7 L423.5 182.4 L425.5 183 L426.8 184.4 L428.2 180.4 L429.5 177.7 L431.5 181 L433.5 181.7 L435.6 180.4 L437.6 181.7 L440.4 181 L443 180.4 L445.8 179 L448.5 175 L450.5 176.3 L452.5 181 L455.2 183.7 L457.2 181.7 L459.2 179 L461.2 178.4 L462.6 174.3 L463.9 175 L465.3 176.3 L467 169.6 L468.6 173.6 L470 179 L471.3 183.1 L473.4 186.4 L478.1 187.1 L479.4 189.1 L501 189.1" stroke-width="1.5"/>
<path d="M386 188.6 L390 185 L394 184 L398 182.5 L400.6 180.4 L403.3 179.7 L408.6 179.7 L412 179.3 L418 179.7 L422.1 178.4 L424.8 176.3 L426.1 172.3 L428.2 166.2 L430.2 162.2 L433.5 156.2 L434.9 152.8 L437 152.5 L438.3 151.4 L440.3 153.5 L443 153 L445.8 152.8 L447.8 156.2 L449.8 160.9 L452.5 164.9 L454.5 170.3 L457.2 174.3 L459 172 L461.2 168.9 L463.9 165.6 L465 172 L466 177 L468.5 183 L471 187 L476 188.5" stroke-width="1.5" stroke-dasharray="4.6 3.4" stroke-linecap="butt"/>
<path d="M382 347.2 L388 346.8 L390.1 345.2 L392 346.5 L398.2 346.5 L400 345 L402.2 344.5 L405 346 L409 344.5 L413 345.5 L418.4 344.5 L423 345.5 L429.1 344.5 L431.8 343.8 L433.9 340.5 L435.9 337.1 L437 335.8 L439 337.1 L441.1 327.7 L443.1 329.7 L445.1 323.6 L447.1 321 L448.5 321.5 L450.5 317.6 L452.5 319.6 L454.5 321 L455.9 323.6 L457.2 329 L458.6 333.7 L460.6 332.4 L462.5 333 L464.6 334.4 L466.6 330.4 L468 334.4 L469.3 335.8 L470.7 341.1 L472.7 343.8 L475.4 346.3 L479.4 346.8 L503 346.5" stroke-width="1.5"/>
<path d="M399 345.5 L404 344.8 L414 345.2 L420 345 L428 344 L432 341 L436 337 L439 333 L441.9 316.9 L443.1 316.9 L443.7 310.2 L444.4 307.5 L445.1 300.8 L445.8 296.7 L446.4 291.3 L447.1 287.3 L447.4 280.6 L448.1 277.2 L448.5 271.2 L449.8 267.8 L449.8 258.4 L451.2 261.1 L452.5 262.4 L453.8 265.8 L453.8 271.2 L455.2 275.2 L455.2 280.6 L456.5 283.9 L455.9 290 L456.5 295.4 L457.2 300.8 L458.6 304.1 L459.2 310.2 L459.9 314.2 L461.2 319.6 L463.9 324.3 L466 329 L468 333 L470 338 L472 343" stroke-width="1.5" stroke-dasharray="4.6 3.4" stroke-linecap="butt"/>
<path d="M384 506.1 L388.1 504.1 L393.5 502.8 L397.5 503.6 L404.2 503.4 L411 501.4 L415 503.5 L419 504.1 L423.1 501.4 L426.4 503.4 L430.5 501.4 L433.2 495.4 L434.5 487.3 L435.9 479.2 L437.2 471.1 L439.2 464.4 L441.2 468.5 L442.6 472.5 L445.4 475.2 L447.4 479.2 L449.4 483.3 L451.4 491.3 L453.5 498.1 L457.5 498.1 L460.2 502.1 L463.6 502.8 L466.9 504.8 L468.9 503.4 L471 505.5 L475 504.8 L505 505.5" stroke-width="1.5"/>
<path d="M400.2 500.1 L404.9 500.1 L415 502 L424 502 L427.1 498.1 L429.1 495.4 L429.8 491.3 L431.1 487.3 L431.1 480.6 L431.8 476.5 L432.5 471.1 L433.2 467.1 L433.8 457.7 L434.1 451 L434.5 445.6 L435.2 438.8 L436.5 430.8 L437.2 425.4 L439.2 424 L441.3 424 L441.6 429.4 L443.4 434.8 L444.7 438.8 L445.4 444.2 L445.7 449.6 L446.1 455 L447.4 459 L448.1 464.4 L448.7 468.5 L449.4 473.8 L450.8 477.9 L452.1 483.3 L453.5 487.3 L455.5 492.7 L458.8 497.4 L462 501 L467 503.5" stroke-width="1.5" stroke-dasharray="4.6 3.4" stroke-linecap="butt"/>
<path d="M386 664.7 L395.5 664.7 L398.2 663.4 L403.5 663.4 L406.9 664 L408.9 662.7 L412.3 662 L413.6 658 L415.6 658.6 L417.7 660.7 L419 661.3 L421 656 L423 651.2 L425.1 647.9 L427.1 649.9 L429.1 643.8 L430.5 635.8 L431.8 630.4 L433.1 632.4 L435.2 625.7 L437.2 627 L438.5 630.4 L439.9 636.4 L441.3 636.4 L442 643.8 L444 648.5 L446.1 649.2 L447.4 646.5 L449.4 649.2 L452.1 651.9 L454.8 653.3 L456.8 658.6 L458.8 662.7 L461.5 663.8 L507.3 663.8" stroke-width="1.5"/>
<path d="M390.5 661.3 L391.4 660.7 L394.8 659.3 L397 656.5 L399.5 653.3 L402.9 651.2 L405.6 645.2 L408.9 643.2 L412.3 641.1 L413.6 637.8 L416.5 638.5 L419.7 639.1 L423 639.1 L425.5 636.5 L427.8 633.1 L428.4 629 L429.8 622.3 L432.5 621 L433.1 616.9 L436.5 620.3 L438 626 L439.5 634 L441 637" stroke-width="1.5" stroke-dasharray="4.6 3.4" stroke-linecap="butt"/>
<path d="M388 823.3 L395.4 823.1 L397.5 822 L399.5 823.1 L429.8 823.1 L432.5 819.7 L434.5 816.3 L437.2 814.3 L438.5 810.9 L439.2 805.6 L440.5 798.8 L441.9 793.5 L443.2 790.1 L445.2 788.7 L447.3 786 L448.7 784.7 L450.8 789.4 L452.8 792.1 L454.8 797.5 L456.8 804.2 L458.8 811 L460.9 811.6 L462.9 816.3 L465.6 820.4 L468.9 822.4 L475 822 L477.7 823.1 L507.3 823.1" stroke-width="1.5"/>
<path d="M400 822.5 L405.5 821 L409.6 820.4 L415 818.4 L419.7 813.6 L422.4 808.9 L425.7 804.9 L428.4 800.2 L431.1 797.5 L433.8 791.4 L437.2 788.1 L439.2 782.7 L439.9 778 L441.9 771.9 L442.1 767.9 L443.9 763.8 L444.3 759.8 L446 759.5 L448.1 763.2 L449.9 768.6 L450.6 773.9 L450.6 778.6 L451.3 784 L452.5 788 L453.3 790.8 L454 798.8" stroke-width="1.5" stroke-dasharray="4.6 3.4" stroke-linecap="butt"/>
</g>
</svg></body></html>
